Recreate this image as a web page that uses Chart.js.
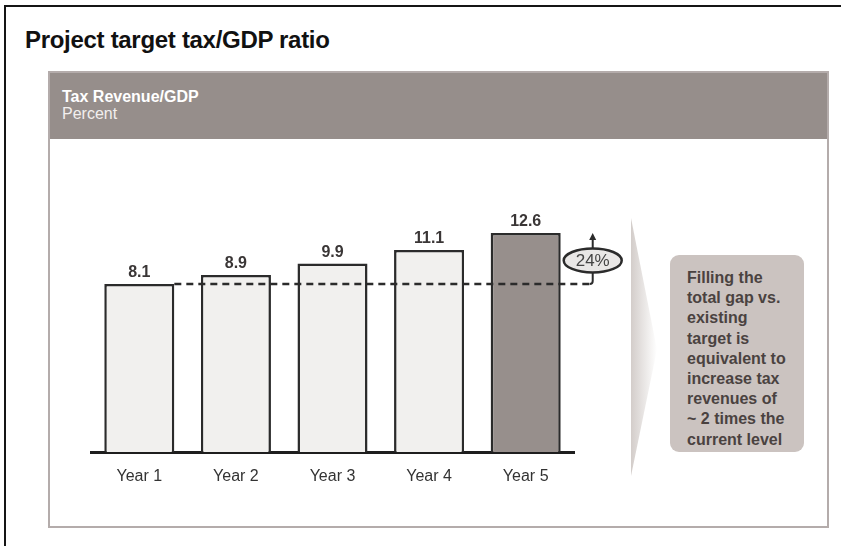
<!DOCTYPE html>
<html>
<head>
<meta charset="utf-8">
<script src="https://cdn.jsdelivr.net/npm/chart.js@4.4.1/dist/chart.umd.min.js"></script>
<style>
  body { margin: 0; width: 841px; height: 546px; overflow: hidden; background: #fff;
         font-family: "Liberation Sans", Arial, sans-serif; position: relative; }
  #frame { position: absolute; left: 4px; top: 5px; right: -10px; bottom: -10px;
           border-top: 2px solid #151515; border-left: 2px solid #151515; }
  .title { position: absolute; left: 25px; top: 26px; font-size: 24px; font-weight: bold;
           color: #111; line-height: 28px; letter-spacing: -0.3px; }
  .panel { position: absolute; left: 48px; top: 71px; width: 781px; height: 457px;
           box-sizing: border-box; border: 2px solid #b4acab; }
  .head { height: 66px; background: #968e8b; color: #fff; box-sizing: border-box;
          padding: 15px 0 0 12px; font-size: 16px; line-height: 17px; }
  .head .sub { color: #f2efee; }
  .wedge { position: absolute; left: 631px; top: 218px; width: 26px; height: 258px;
           clip-path: polygon(0 0, 100% 51%, 0 100%);
           background: linear-gradient(to right, #d3cdca, rgba(255,255,255,0)); }
  .note { position: absolute; left: 670px; top: 255px; width: 134px; height: 197px;
          box-sizing: border-box; padding: 13px 0 0 17px; background: #cbc3c0;
          border-radius: 9px; color: #4a4240; font-weight: bold; font-size: 16px;
          line-height: 20.2px; }
  #chart { position: absolute; left: 0; top: 0; }
</style>
</head>
<body>
<div id="frame"></div>
<div class="title">Project target tax/GDP ratio</div>
<div class="panel"><div class="head"><b>Tax Revenue/GDP</b><br><span class="sub">Percent</span></div></div>
<div class="wedge"></div>
<div class="note" id="note"></div>
<canvas id="chart" width="841" height="546"></canvas>
<script>
// ---------------- DATA ----------------
const years = ["Year 1", "Year 2", "Year 3", "Year 4", "Year 5"];
const taxRatio = [8.1, 8.9, 9.9, 11.1, 12.6];
const gapLabel = "24%";
const noteLines = ["Filling the", "total gap vs.", "existing", "target is",
                   "equivalent to", "increase tax", "revenues of",
                   "~ 2 times the", "current level"];

// value axis window (the original is drawn schematically, not from zero)
const yMin = -6.7;
const yMax = 15.5;

document.getElementById("note").innerHTML = noteLines.join("<br>");

const FONT = "'Liberation Sans', Arial, sans-serif";

// -------- labels, dashed base line and growth bubble --------
const overlay = {
    id: "overlay",
    afterDatasetsDraw(chart) {
        const ctx = chart.ctx;
        const bars = chart.getDatasetMeta(0).data;
        const y = chart.scales.y;

        // values above bars
        ctx.save();
        ctx.font = "bold 16px " + FONT;
        ctx.fillStyle = "#3a3636";
        ctx.textAlign = "center";
        ctx.textBaseline = "middle";
        bars.forEach((b, i) => ctx.fillText(taxRatio[i].toFixed(1), b.x, b.y - 11));

        const first = bars[0], last = bars[bars.length - 1];
        const baseY = y.getPixelForValue(taxRatio[0]);
        const topY = y.getPixelForValue(taxRatio[taxRatio.length - 1]);
        const ex = last.x + last.width / 2 + 32;
        const ey = (baseY + topY) / 2 + 2;
        const rx = 29, ry = 12;

        // dashed line at first year level
        ctx.strokeStyle = "#2b2b2b";
        ctx.lineWidth = 2.5;
        ctx.setLineDash([7, 5]);
        ctx.beginPath();
        ctx.moveTo(first.x + first.width / 2, baseY);
        ctx.lineTo(ex - 3, baseY);
        ctx.stroke();
        ctx.setLineDash([]);

        // connector up into bubble
        ctx.lineWidth = 2;
        ctx.beginPath();
        ctx.moveTo(ex - 3, baseY);
        ctx.quadraticCurveTo(ex, baseY, ex, baseY - 3);
        ctx.lineTo(ex, ey + ry);
        ctx.stroke();

        // arrow up to top level
        ctx.beginPath();
        ctx.moveTo(ex, ey - ry);
        ctx.lineTo(ex, topY + 5);
        ctx.stroke();
        ctx.fillStyle = "#2b2b2b";
        ctx.beginPath();
        ctx.moveTo(ex, topY);
        ctx.lineTo(ex - 3.5, topY + 7);
        ctx.lineTo(ex + 3.5, topY + 7);
        ctx.closePath();
        ctx.fill();

        // bubble
        ctx.beginPath();
        ctx.ellipse(ex, ey, rx, ry, 0, 0, Math.PI * 2);
        ctx.fillStyle = "#e9e7e6";
        ctx.fill();
        ctx.lineWidth = 2.5;
        ctx.stroke();
        ctx.fillStyle = "#444";
        ctx.font = "17px " + FONT;
        ctx.fillText(gapLabel, ex, ey + 1);
        ctx.restore();
    }
};

new Chart(document.getElementById("chart"), {
    type: "bar",
    data: {
        labels: years,
        datasets: [{
            data: taxRatio,
            base: yMin,
            backgroundColor: taxRatio.map((v, i) => i === taxRatio.length - 1 ? "#978f8c" : "#f1f0ee"),
            borderColor: "#2b2b2b",
            borderWidth: 2.5,
            barPercentage: 0.725,
            categoryPercentage: 1
        }]
    },
    options: {
        responsive: false,
        animation: false,
        devicePixelRatio: 1,
        layout: { padding: { left: 91, right: 267, top: 200, bottom: 54 } },
        plugins: { legend: { display: false }, tooltip: { enabled: false } },
        scales: {
            x: {
                grid: { display: false },
                border: { display: true, color: "#1e1e1e", width: 3 },
                ticks: { color: "#333", font: { family: FONT, size: 16 }, padding: 7 },
                afterFit: (s) => { s.height = 40; }
            },
            y: { display: false, min: yMin, max: yMax }
        }
    },
    plugins: [overlay]
});
</script>
</body>
</html>
